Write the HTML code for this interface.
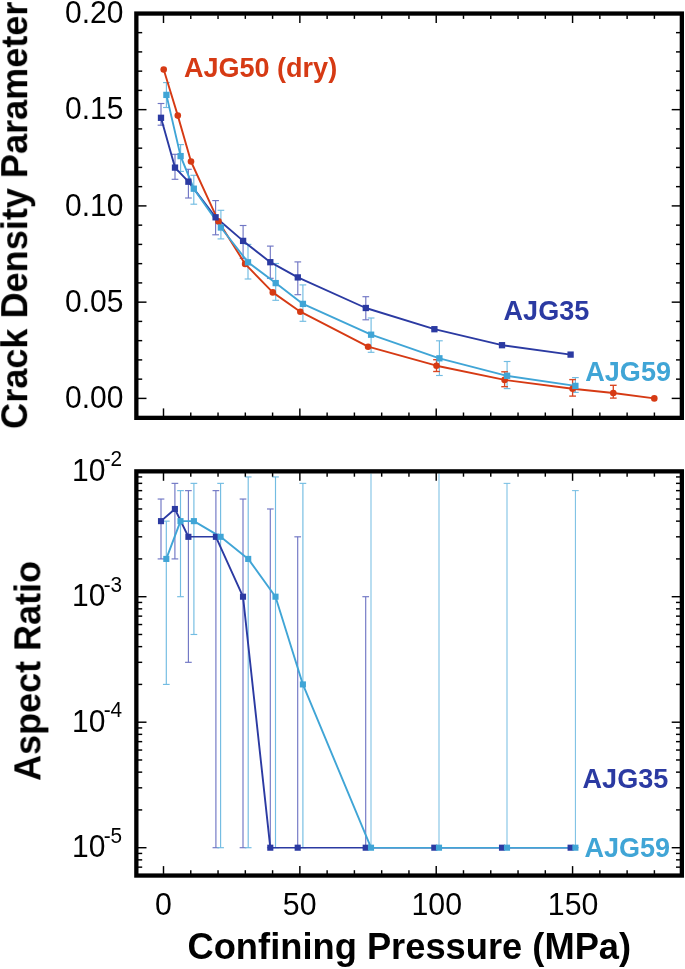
<!DOCTYPE html>
<html><head><meta charset="utf-8"><title>chart</title>
<style>html,body{margin:0;padding:0;background:#fff;}svg{display:block;}</style></head>
<body>
<svg width="685" height="969" viewBox="0 0 685 969">
<rect width="685" height="969" fill="#fff"/>
<line x1="166.40" y1="82.60" x2="166.40" y2="107.50" stroke="#72BCE2" stroke-width="1.15"/>
<line x1="163.05" y1="82.60" x2="169.75" y2="82.60" stroke="#72BCE2" stroke-width="1.15"/>
<line x1="163.05" y1="107.50" x2="169.75" y2="107.50" stroke="#72BCE2" stroke-width="1.15"/>
<line x1="180.60" y1="144.60" x2="180.60" y2="171.40" stroke="#72BCE2" stroke-width="1.15"/>
<line x1="177.25" y1="144.60" x2="183.95" y2="144.60" stroke="#72BCE2" stroke-width="1.15"/>
<line x1="177.25" y1="171.40" x2="183.95" y2="171.40" stroke="#72BCE2" stroke-width="1.15"/>
<line x1="193.80" y1="175.30" x2="193.80" y2="204.20" stroke="#72BCE2" stroke-width="1.15"/>
<line x1="190.45" y1="175.30" x2="197.15" y2="175.30" stroke="#72BCE2" stroke-width="1.15"/>
<line x1="190.45" y1="204.20" x2="197.15" y2="204.20" stroke="#72BCE2" stroke-width="1.15"/>
<line x1="220.90" y1="210.30" x2="220.90" y2="238.90" stroke="#72BCE2" stroke-width="1.15"/>
<line x1="217.55" y1="210.30" x2="224.25" y2="210.30" stroke="#72BCE2" stroke-width="1.15"/>
<line x1="217.55" y1="238.90" x2="224.25" y2="238.90" stroke="#72BCE2" stroke-width="1.15"/>
<line x1="248.00" y1="244.40" x2="248.00" y2="279.00" stroke="#72BCE2" stroke-width="1.15"/>
<line x1="244.65" y1="244.40" x2="251.35" y2="244.40" stroke="#72BCE2" stroke-width="1.15"/>
<line x1="244.65" y1="279.00" x2="251.35" y2="279.00" stroke="#72BCE2" stroke-width="1.15"/>
<line x1="275.70" y1="263.50" x2="275.70" y2="300.30" stroke="#72BCE2" stroke-width="1.15"/>
<line x1="272.35" y1="263.50" x2="279.05" y2="263.50" stroke="#72BCE2" stroke-width="1.15"/>
<line x1="272.35" y1="300.30" x2="279.05" y2="300.30" stroke="#72BCE2" stroke-width="1.15"/>
<line x1="302.90" y1="284.90" x2="302.90" y2="321.30" stroke="#72BCE2" stroke-width="1.15"/>
<line x1="299.55" y1="284.90" x2="306.25" y2="284.90" stroke="#72BCE2" stroke-width="1.15"/>
<line x1="299.55" y1="321.30" x2="306.25" y2="321.30" stroke="#72BCE2" stroke-width="1.15"/>
<line x1="371.10" y1="318.00" x2="371.10" y2="352.30" stroke="#72BCE2" stroke-width="1.15"/>
<line x1="367.75" y1="318.00" x2="374.45" y2="318.00" stroke="#72BCE2" stroke-width="1.15"/>
<line x1="367.75" y1="352.30" x2="374.45" y2="352.30" stroke="#72BCE2" stroke-width="1.15"/>
<line x1="439.40" y1="340.80" x2="439.40" y2="375.50" stroke="#72BCE2" stroke-width="1.15"/>
<line x1="436.05" y1="340.80" x2="442.75" y2="340.80" stroke="#72BCE2" stroke-width="1.15"/>
<line x1="436.05" y1="375.50" x2="442.75" y2="375.50" stroke="#72BCE2" stroke-width="1.15"/>
<line x1="507.10" y1="361.50" x2="507.10" y2="388.60" stroke="#72BCE2" stroke-width="1.15"/>
<line x1="503.75" y1="361.50" x2="510.45" y2="361.50" stroke="#72BCE2" stroke-width="1.15"/>
<line x1="503.75" y1="388.60" x2="510.45" y2="388.60" stroke="#72BCE2" stroke-width="1.15"/>
<line x1="575.40" y1="377.60" x2="575.40" y2="392.40" stroke="#72BCE2" stroke-width="1.15"/>
<line x1="572.05" y1="377.60" x2="578.75" y2="377.60" stroke="#72BCE2" stroke-width="1.15"/>
<line x1="572.05" y1="392.40" x2="578.75" y2="392.40" stroke="#72BCE2" stroke-width="1.15"/>
<line x1="161.00" y1="103.50" x2="161.00" y2="125.20" stroke="#7076C4" stroke-width="1.15"/>
<line x1="157.65" y1="103.50" x2="164.35" y2="103.50" stroke="#7076C4" stroke-width="1.15"/>
<line x1="157.65" y1="125.20" x2="164.35" y2="125.20" stroke="#7076C4" stroke-width="1.15"/>
<line x1="175.00" y1="154.30" x2="175.00" y2="179.30" stroke="#7076C4" stroke-width="1.15"/>
<line x1="171.65" y1="154.30" x2="178.35" y2="154.30" stroke="#7076C4" stroke-width="1.15"/>
<line x1="171.65" y1="179.30" x2="178.35" y2="179.30" stroke="#7076C4" stroke-width="1.15"/>
<line x1="188.40" y1="169.30" x2="188.40" y2="198.00" stroke="#7076C4" stroke-width="1.15"/>
<line x1="185.05" y1="169.30" x2="191.75" y2="169.30" stroke="#7076C4" stroke-width="1.15"/>
<line x1="185.05" y1="198.00" x2="191.75" y2="198.00" stroke="#7076C4" stroke-width="1.15"/>
<line x1="215.60" y1="200.60" x2="215.60" y2="234.80" stroke="#7076C4" stroke-width="1.15"/>
<line x1="212.25" y1="200.60" x2="218.95" y2="200.60" stroke="#7076C4" stroke-width="1.15"/>
<line x1="212.25" y1="234.80" x2="218.95" y2="234.80" stroke="#7076C4" stroke-width="1.15"/>
<line x1="243.10" y1="225.50" x2="243.10" y2="258.40" stroke="#7076C4" stroke-width="1.15"/>
<line x1="239.75" y1="225.50" x2="246.45" y2="225.50" stroke="#7076C4" stroke-width="1.15"/>
<line x1="239.75" y1="258.40" x2="246.45" y2="258.40" stroke="#7076C4" stroke-width="1.15"/>
<line x1="270.30" y1="246.10" x2="270.30" y2="278.30" stroke="#7076C4" stroke-width="1.15"/>
<line x1="266.95" y1="246.10" x2="273.65" y2="246.10" stroke="#7076C4" stroke-width="1.15"/>
<line x1="266.95" y1="278.30" x2="273.65" y2="278.30" stroke="#7076C4" stroke-width="1.15"/>
<line x1="297.80" y1="261.90" x2="297.80" y2="294.70" stroke="#7076C4" stroke-width="1.15"/>
<line x1="294.45" y1="261.90" x2="301.15" y2="261.90" stroke="#7076C4" stroke-width="1.15"/>
<line x1="294.45" y1="294.70" x2="301.15" y2="294.70" stroke="#7076C4" stroke-width="1.15"/>
<line x1="365.80" y1="296.70" x2="365.80" y2="319.80" stroke="#7076C4" stroke-width="1.15"/>
<line x1="362.45" y1="296.70" x2="369.15" y2="296.70" stroke="#7076C4" stroke-width="1.15"/>
<line x1="362.45" y1="319.80" x2="369.15" y2="319.80" stroke="#7076C4" stroke-width="1.15"/>
<line x1="436.50" y1="359.70" x2="436.50" y2="371.50" stroke="#DA4722" stroke-width="1.35"/>
<line x1="433.15" y1="359.70" x2="439.85" y2="359.70" stroke="#DA4722" stroke-width="1.35"/>
<line x1="433.15" y1="371.50" x2="439.85" y2="371.50" stroke="#DA4722" stroke-width="1.35"/>
<line x1="504.60" y1="371.80" x2="504.60" y2="386.70" stroke="#DA4722" stroke-width="1.35"/>
<line x1="501.25" y1="371.80" x2="507.95" y2="371.80" stroke="#DA4722" stroke-width="1.35"/>
<line x1="501.25" y1="386.70" x2="507.95" y2="386.70" stroke="#DA4722" stroke-width="1.35"/>
<line x1="572.60" y1="379.60" x2="572.60" y2="396.10" stroke="#DA4722" stroke-width="1.35"/>
<line x1="569.25" y1="379.60" x2="575.95" y2="379.60" stroke="#DA4722" stroke-width="1.35"/>
<line x1="569.25" y1="396.10" x2="575.95" y2="396.10" stroke="#DA4722" stroke-width="1.35"/>
<line x1="613.30" y1="385.30" x2="613.30" y2="398.10" stroke="#DA4722" stroke-width="1.35"/>
<line x1="609.95" y1="385.30" x2="616.65" y2="385.30" stroke="#DA4722" stroke-width="1.35"/>
<line x1="609.95" y1="398.10" x2="616.65" y2="398.10" stroke="#DA4722" stroke-width="1.35"/>
<polyline points="163.70,69.50 177.80,115.60 191.00,161.50 218.50,221.40 245.10,263.90 272.80,292.40 300.30,311.70 368.10,346.70 436.50,365.70 504.60,379.90 572.60,388.70 613.30,393.00 654.30,398.40" fill="none" stroke="#D63A14" stroke-width="1.9" stroke-linejoin="round"/>
<polyline points="161.00,117.80 175.00,167.60 188.40,181.70 215.60,217.30 243.10,240.90 270.30,262.20 297.80,277.40 365.80,308.00 434.40,329.20 502.00,345.20 570.60,354.60" fill="none" stroke="#2B3AA2" stroke-width="1.9" stroke-linejoin="round"/>
<polyline points="166.40,94.90 180.60,156.10 193.80,188.70 220.90,227.50 248.00,262.30 275.70,283.10 302.90,303.90 371.10,334.70 439.40,358.30 507.10,375.80 575.40,385.90" fill="none" stroke="#40A5D6" stroke-width="1.9" stroke-linejoin="round"/>
<circle cx="163.70" cy="69.50" r="3.3" fill="#D63A14"/>
<circle cx="177.80" cy="115.60" r="3.3" fill="#D63A14"/>
<circle cx="191.00" cy="161.50" r="3.3" fill="#D63A14"/>
<circle cx="218.50" cy="221.40" r="3.3" fill="#D63A14"/>
<circle cx="245.10" cy="263.90" r="3.3" fill="#D63A14"/>
<circle cx="272.80" cy="292.40" r="3.3" fill="#D63A14"/>
<circle cx="300.30" cy="311.70" r="3.3" fill="#D63A14"/>
<circle cx="368.10" cy="346.70" r="3.3" fill="#D63A14"/>
<circle cx="436.50" cy="365.70" r="3.3" fill="#D63A14"/>
<circle cx="504.60" cy="379.90" r="3.3" fill="#D63A14"/>
<circle cx="572.60" cy="388.70" r="3.3" fill="#D63A14"/>
<circle cx="613.30" cy="393.00" r="3.3" fill="#D63A14"/>
<circle cx="654.30" cy="398.40" r="3.3" fill="#D63A14"/>
<rect x="157.85" y="114.65" width="6.3" height="6.3" fill="#2B3AA2"/>
<rect x="171.85" y="164.45" width="6.3" height="6.3" fill="#2B3AA2"/>
<rect x="185.25" y="178.55" width="6.3" height="6.3" fill="#2B3AA2"/>
<rect x="212.45" y="214.15" width="6.3" height="6.3" fill="#2B3AA2"/>
<rect x="239.95" y="237.75" width="6.3" height="6.3" fill="#2B3AA2"/>
<rect x="267.15" y="259.05" width="6.3" height="6.3" fill="#2B3AA2"/>
<rect x="294.65" y="274.25" width="6.3" height="6.3" fill="#2B3AA2"/>
<rect x="362.65" y="304.85" width="6.3" height="6.3" fill="#2B3AA2"/>
<rect x="431.25" y="326.05" width="6.3" height="6.3" fill="#2B3AA2"/>
<rect x="498.85" y="342.05" width="6.3" height="6.3" fill="#2B3AA2"/>
<rect x="567.45" y="351.45" width="6.3" height="6.3" fill="#2B3AA2"/>
<rect x="163.25" y="91.75" width="6.3" height="6.3" fill="#40A5D6"/>
<rect x="177.45" y="152.95" width="6.3" height="6.3" fill="#40A5D6"/>
<rect x="190.65" y="185.55" width="6.3" height="6.3" fill="#40A5D6"/>
<rect x="217.75" y="224.35" width="6.3" height="6.3" fill="#40A5D6"/>
<rect x="244.85" y="259.15" width="6.3" height="6.3" fill="#40A5D6"/>
<rect x="272.55" y="279.95" width="6.3" height="6.3" fill="#40A5D6"/>
<rect x="299.75" y="300.75" width="6.3" height="6.3" fill="#40A5D6"/>
<rect x="367.95" y="331.55" width="6.3" height="6.3" fill="#40A5D6"/>
<rect x="436.25" y="355.15" width="6.3" height="6.3" fill="#40A5D6"/>
<rect x="503.95" y="372.65" width="6.3" height="6.3" fill="#40A5D6"/>
<rect x="572.25" y="382.75" width="6.3" height="6.3" fill="#40A5D6"/>
<rect x="136.35" y="13.55" width="545.50" height="404.30" fill="none" stroke="#000" stroke-width="4.3"/>
<line x1="163.50" y1="15.20" x2="163.50" y2="23.00" stroke="#000" stroke-width="1.45"/>
<line x1="163.50" y1="416.20" x2="163.50" y2="408.40" stroke="#000" stroke-width="1.45"/>
<line x1="190.77" y1="15.20" x2="190.77" y2="18.90" stroke="#000" stroke-width="1.45"/>
<line x1="190.77" y1="416.20" x2="190.77" y2="412.50" stroke="#000" stroke-width="1.45"/>
<line x1="218.04" y1="15.20" x2="218.04" y2="18.90" stroke="#000" stroke-width="1.45"/>
<line x1="218.04" y1="416.20" x2="218.04" y2="412.50" stroke="#000" stroke-width="1.45"/>
<line x1="245.32" y1="15.20" x2="245.32" y2="18.90" stroke="#000" stroke-width="1.45"/>
<line x1="245.32" y1="416.20" x2="245.32" y2="412.50" stroke="#000" stroke-width="1.45"/>
<line x1="272.59" y1="15.20" x2="272.59" y2="18.90" stroke="#000" stroke-width="1.45"/>
<line x1="272.59" y1="416.20" x2="272.59" y2="412.50" stroke="#000" stroke-width="1.45"/>
<line x1="299.86" y1="15.20" x2="299.86" y2="23.00" stroke="#000" stroke-width="1.45"/>
<line x1="299.86" y1="416.20" x2="299.86" y2="408.40" stroke="#000" stroke-width="1.45"/>
<line x1="327.13" y1="15.20" x2="327.13" y2="18.90" stroke="#000" stroke-width="1.45"/>
<line x1="327.13" y1="416.20" x2="327.13" y2="412.50" stroke="#000" stroke-width="1.45"/>
<line x1="354.40" y1="15.20" x2="354.40" y2="18.90" stroke="#000" stroke-width="1.45"/>
<line x1="354.40" y1="416.20" x2="354.40" y2="412.50" stroke="#000" stroke-width="1.45"/>
<line x1="381.68" y1="15.20" x2="381.68" y2="18.90" stroke="#000" stroke-width="1.45"/>
<line x1="381.68" y1="416.20" x2="381.68" y2="412.50" stroke="#000" stroke-width="1.45"/>
<line x1="408.95" y1="15.20" x2="408.95" y2="18.90" stroke="#000" stroke-width="1.45"/>
<line x1="408.95" y1="416.20" x2="408.95" y2="412.50" stroke="#000" stroke-width="1.45"/>
<line x1="436.22" y1="15.20" x2="436.22" y2="23.00" stroke="#000" stroke-width="1.45"/>
<line x1="436.22" y1="416.20" x2="436.22" y2="408.40" stroke="#000" stroke-width="1.45"/>
<line x1="463.49" y1="15.20" x2="463.49" y2="18.90" stroke="#000" stroke-width="1.45"/>
<line x1="463.49" y1="416.20" x2="463.49" y2="412.50" stroke="#000" stroke-width="1.45"/>
<line x1="490.76" y1="15.20" x2="490.76" y2="18.90" stroke="#000" stroke-width="1.45"/>
<line x1="490.76" y1="416.20" x2="490.76" y2="412.50" stroke="#000" stroke-width="1.45"/>
<line x1="518.04" y1="15.20" x2="518.04" y2="18.90" stroke="#000" stroke-width="1.45"/>
<line x1="518.04" y1="416.20" x2="518.04" y2="412.50" stroke="#000" stroke-width="1.45"/>
<line x1="545.31" y1="15.20" x2="545.31" y2="18.90" stroke="#000" stroke-width="1.45"/>
<line x1="545.31" y1="416.20" x2="545.31" y2="412.50" stroke="#000" stroke-width="1.45"/>
<line x1="572.58" y1="15.20" x2="572.58" y2="23.00" stroke="#000" stroke-width="1.45"/>
<line x1="572.58" y1="416.20" x2="572.58" y2="408.40" stroke="#000" stroke-width="1.45"/>
<line x1="599.85" y1="15.20" x2="599.85" y2="18.90" stroke="#000" stroke-width="1.45"/>
<line x1="599.85" y1="416.20" x2="599.85" y2="412.50" stroke="#000" stroke-width="1.45"/>
<line x1="627.12" y1="15.20" x2="627.12" y2="18.90" stroke="#000" stroke-width="1.45"/>
<line x1="627.12" y1="416.20" x2="627.12" y2="412.50" stroke="#000" stroke-width="1.45"/>
<line x1="654.40" y1="15.20" x2="654.40" y2="18.90" stroke="#000" stroke-width="1.45"/>
<line x1="654.40" y1="416.20" x2="654.40" y2="412.50" stroke="#000" stroke-width="1.45"/>
<line x1="138.00" y1="398.40" x2="146.50" y2="398.40" stroke="#000" stroke-width="1.45"/>
<line x1="680.20" y1="398.40" x2="671.70" y2="398.40" stroke="#000" stroke-width="1.45"/>
<line x1="138.00" y1="379.15" x2="142.20" y2="379.15" stroke="#000" stroke-width="1.45"/>
<line x1="680.20" y1="379.15" x2="676.00" y2="379.15" stroke="#000" stroke-width="1.45"/>
<line x1="138.00" y1="359.90" x2="142.20" y2="359.90" stroke="#000" stroke-width="1.45"/>
<line x1="680.20" y1="359.90" x2="676.00" y2="359.90" stroke="#000" stroke-width="1.45"/>
<line x1="138.00" y1="340.65" x2="142.20" y2="340.65" stroke="#000" stroke-width="1.45"/>
<line x1="680.20" y1="340.65" x2="676.00" y2="340.65" stroke="#000" stroke-width="1.45"/>
<line x1="138.00" y1="321.40" x2="142.20" y2="321.40" stroke="#000" stroke-width="1.45"/>
<line x1="680.20" y1="321.40" x2="676.00" y2="321.40" stroke="#000" stroke-width="1.45"/>
<line x1="138.00" y1="302.15" x2="146.50" y2="302.15" stroke="#000" stroke-width="1.45"/>
<line x1="680.20" y1="302.15" x2="671.70" y2="302.15" stroke="#000" stroke-width="1.45"/>
<line x1="138.00" y1="282.90" x2="142.20" y2="282.90" stroke="#000" stroke-width="1.45"/>
<line x1="680.20" y1="282.90" x2="676.00" y2="282.90" stroke="#000" stroke-width="1.45"/>
<line x1="138.00" y1="263.65" x2="142.20" y2="263.65" stroke="#000" stroke-width="1.45"/>
<line x1="680.20" y1="263.65" x2="676.00" y2="263.65" stroke="#000" stroke-width="1.45"/>
<line x1="138.00" y1="244.40" x2="142.20" y2="244.40" stroke="#000" stroke-width="1.45"/>
<line x1="680.20" y1="244.40" x2="676.00" y2="244.40" stroke="#000" stroke-width="1.45"/>
<line x1="138.00" y1="225.15" x2="142.20" y2="225.15" stroke="#000" stroke-width="1.45"/>
<line x1="680.20" y1="225.15" x2="676.00" y2="225.15" stroke="#000" stroke-width="1.45"/>
<line x1="138.00" y1="205.90" x2="146.50" y2="205.90" stroke="#000" stroke-width="1.45"/>
<line x1="680.20" y1="205.90" x2="671.70" y2="205.90" stroke="#000" stroke-width="1.45"/>
<line x1="138.00" y1="186.65" x2="142.20" y2="186.65" stroke="#000" stroke-width="1.45"/>
<line x1="680.20" y1="186.65" x2="676.00" y2="186.65" stroke="#000" stroke-width="1.45"/>
<line x1="138.00" y1="167.40" x2="142.20" y2="167.40" stroke="#000" stroke-width="1.45"/>
<line x1="680.20" y1="167.40" x2="676.00" y2="167.40" stroke="#000" stroke-width="1.45"/>
<line x1="138.00" y1="148.15" x2="142.20" y2="148.15" stroke="#000" stroke-width="1.45"/>
<line x1="680.20" y1="148.15" x2="676.00" y2="148.15" stroke="#000" stroke-width="1.45"/>
<line x1="138.00" y1="128.90" x2="142.20" y2="128.90" stroke="#000" stroke-width="1.45"/>
<line x1="680.20" y1="128.90" x2="676.00" y2="128.90" stroke="#000" stroke-width="1.45"/>
<line x1="138.00" y1="109.65" x2="146.50" y2="109.65" stroke="#000" stroke-width="1.45"/>
<line x1="680.20" y1="109.65" x2="671.70" y2="109.65" stroke="#000" stroke-width="1.45"/>
<line x1="138.00" y1="90.40" x2="142.20" y2="90.40" stroke="#000" stroke-width="1.45"/>
<line x1="680.20" y1="90.40" x2="676.00" y2="90.40" stroke="#000" stroke-width="1.45"/>
<line x1="138.00" y1="71.15" x2="142.20" y2="71.15" stroke="#000" stroke-width="1.45"/>
<line x1="680.20" y1="71.15" x2="676.00" y2="71.15" stroke="#000" stroke-width="1.45"/>
<line x1="138.00" y1="51.90" x2="142.20" y2="51.90" stroke="#000" stroke-width="1.45"/>
<line x1="680.20" y1="51.90" x2="676.00" y2="51.90" stroke="#000" stroke-width="1.45"/>
<line x1="138.00" y1="32.65" x2="142.20" y2="32.65" stroke="#000" stroke-width="1.45"/>
<line x1="680.20" y1="32.65" x2="676.00" y2="32.65" stroke="#000" stroke-width="1.45"/>
<line x1="138.00" y1="13.40" x2="146.50" y2="13.40" stroke="#000" stroke-width="1.45"/>
<line x1="680.20" y1="13.40" x2="671.70" y2="13.40" stroke="#000" stroke-width="1.45"/>
<line x1="161.00" y1="499.04" x2="161.00" y2="558.92" stroke="#7076C4" stroke-width="1.15"/>
<line x1="157.65" y1="499.04" x2="164.35" y2="499.04" stroke="#7076C4" stroke-width="1.15"/>
<line x1="157.65" y1="558.92" x2="164.35" y2="558.92" stroke="#7076C4" stroke-width="1.15"/>
<line x1="174.90" y1="483.36" x2="174.90" y2="558.92" stroke="#7076C4" stroke-width="1.15"/>
<line x1="171.55" y1="483.36" x2="178.25" y2="483.36" stroke="#7076C4" stroke-width="1.15"/>
<line x1="171.55" y1="558.92" x2="178.25" y2="558.92" stroke="#7076C4" stroke-width="1.15"/>
<line x1="188.40" y1="490.64" x2="188.40" y2="662.32" stroke="#7076C4" stroke-width="1.15"/>
<line x1="185.05" y1="490.64" x2="191.75" y2="490.64" stroke="#7076C4" stroke-width="1.15"/>
<line x1="185.05" y1="662.32" x2="191.75" y2="662.32" stroke="#7076C4" stroke-width="1.15"/>
<line x1="215.90" y1="490.64" x2="215.90" y2="847.70" stroke="#7076C4" stroke-width="1.15"/>
<line x1="212.55" y1="490.64" x2="219.25" y2="490.64" stroke="#7076C4" stroke-width="1.15"/>
<line x1="212.55" y1="847.70" x2="219.25" y2="847.70" stroke="#7076C4" stroke-width="1.15"/>
<line x1="243.00" y1="499.04" x2="243.00" y2="847.70" stroke="#7076C4" stroke-width="1.15"/>
<line x1="239.65" y1="499.04" x2="246.35" y2="499.04" stroke="#7076C4" stroke-width="1.15"/>
<line x1="239.65" y1="847.70" x2="246.35" y2="847.70" stroke="#7076C4" stroke-width="1.15"/>
<line x1="270.30" y1="508.98" x2="270.30" y2="847.70" stroke="#7076C4" stroke-width="1.15"/>
<line x1="266.95" y1="508.98" x2="273.65" y2="508.98" stroke="#7076C4" stroke-width="1.15"/>
<line x1="266.95" y1="847.70" x2="273.65" y2="847.70" stroke="#7076C4" stroke-width="1.15"/>
<line x1="297.70" y1="536.82" x2="297.70" y2="847.70" stroke="#7076C4" stroke-width="1.15"/>
<line x1="294.35" y1="536.82" x2="301.05" y2="536.82" stroke="#7076C4" stroke-width="1.15"/>
<line x1="294.35" y1="847.70" x2="301.05" y2="847.70" stroke="#7076C4" stroke-width="1.15"/>
<line x1="365.70" y1="596.70" x2="365.70" y2="847.70" stroke="#7076C4" stroke-width="1.15"/>
<line x1="362.35" y1="596.70" x2="369.05" y2="596.70" stroke="#7076C4" stroke-width="1.15"/>
<line x1="362.35" y1="847.70" x2="369.05" y2="847.70" stroke="#7076C4" stroke-width="1.15"/>
<line x1="166.30" y1="521.14" x2="166.30" y2="684.42" stroke="#72BCE2" stroke-width="1.15"/>
<line x1="162.95" y1="521.14" x2="169.65" y2="521.14" stroke="#72BCE2" stroke-width="1.15"/>
<line x1="162.95" y1="684.42" x2="169.65" y2="684.42" stroke="#72BCE2" stroke-width="1.15"/>
<line x1="180.50" y1="490.64" x2="180.50" y2="596.70" stroke="#72BCE2" stroke-width="1.15"/>
<line x1="177.15" y1="490.64" x2="183.85" y2="490.64" stroke="#72BCE2" stroke-width="1.15"/>
<line x1="177.15" y1="596.70" x2="183.85" y2="596.70" stroke="#72BCE2" stroke-width="1.15"/>
<line x1="193.90" y1="483.36" x2="193.90" y2="634.48" stroke="#72BCE2" stroke-width="1.15"/>
<line x1="190.55" y1="483.36" x2="197.25" y2="483.36" stroke="#72BCE2" stroke-width="1.15"/>
<line x1="190.55" y1="634.48" x2="197.25" y2="634.48" stroke="#72BCE2" stroke-width="1.15"/>
<line x1="220.60" y1="483.36" x2="220.60" y2="847.70" stroke="#72BCE2" stroke-width="1.15"/>
<line x1="217.25" y1="483.36" x2="223.95" y2="483.36" stroke="#72BCE2" stroke-width="1.15"/>
<line x1="217.25" y1="847.70" x2="223.95" y2="847.70" stroke="#72BCE2" stroke-width="1.15"/>
<line x1="248.20" y1="476.94" x2="248.20" y2="847.70" stroke="#72BCE2" stroke-width="1.15"/>
<line x1="244.85" y1="476.94" x2="251.55" y2="476.94" stroke="#72BCE2" stroke-width="1.15"/>
<line x1="244.85" y1="847.70" x2="251.55" y2="847.70" stroke="#72BCE2" stroke-width="1.15"/>
<line x1="275.50" y1="476.94" x2="275.50" y2="847.70" stroke="#72BCE2" stroke-width="1.15"/>
<line x1="272.15" y1="476.94" x2="278.85" y2="476.94" stroke="#72BCE2" stroke-width="1.15"/>
<line x1="272.15" y1="847.70" x2="278.85" y2="847.70" stroke="#72BCE2" stroke-width="1.15"/>
<line x1="302.90" y1="483.36" x2="302.90" y2="847.70" stroke="#72BCE2" stroke-width="1.15"/>
<line x1="299.55" y1="483.36" x2="306.25" y2="483.36" stroke="#72BCE2" stroke-width="1.15"/>
<line x1="299.55" y1="847.70" x2="306.25" y2="847.70" stroke="#72BCE2" stroke-width="1.15"/>
<line x1="371.00" y1="473.50" x2="371.00" y2="847.70" stroke="#6CB8E0" stroke-width="0.95"/>
<line x1="367.65" y1="847.70" x2="374.35" y2="847.70" stroke="#6CB8E0" stroke-width="0.95"/>
<line x1="439.00" y1="473.50" x2="439.00" y2="847.70" stroke="#6CB8E0" stroke-width="0.95"/>
<line x1="435.65" y1="847.70" x2="442.35" y2="847.70" stroke="#6CB8E0" stroke-width="0.95"/>
<line x1="507.00" y1="483.36" x2="507.00" y2="847.70" stroke="#6CB8E0" stroke-width="0.95"/>
<line x1="503.65" y1="483.36" x2="510.35" y2="483.36" stroke="#6CB8E0" stroke-width="0.95"/>
<line x1="503.65" y1="847.70" x2="510.35" y2="847.70" stroke="#6CB8E0" stroke-width="0.95"/>
<line x1="575.40" y1="490.64" x2="575.40" y2="847.70" stroke="#6CB8E0" stroke-width="0.95"/>
<line x1="572.05" y1="490.64" x2="578.75" y2="490.64" stroke="#6CB8E0" stroke-width="0.95"/>
<line x1="572.05" y1="847.70" x2="578.75" y2="847.70" stroke="#6CB8E0" stroke-width="0.95"/>
<line x1="161.00" y1="521.14" x2="174.90" y2="508.98" stroke="#2B3AA2" stroke-width="1.9" stroke-linecap="round"/>
<line x1="174.90" y1="508.98" x2="188.40" y2="536.82" stroke="#2B3AA2" stroke-width="1.9" stroke-linecap="round"/>
<line x1="188.40" y1="536.82" x2="215.90" y2="536.82" stroke="#2B3AA2" stroke-width="1.5" stroke-linecap="round"/>
<line x1="215.90" y1="536.82" x2="243.00" y2="596.70" stroke="#2B3AA2" stroke-width="1.9" stroke-linecap="round"/>
<line x1="243.00" y1="596.70" x2="270.30" y2="847.70" stroke="#2B3AA2" stroke-width="1.9" stroke-linecap="round"/>
<line x1="270.30" y1="847.70" x2="297.70" y2="847.70" stroke="#2B3AA2" stroke-width="1.5" stroke-linecap="round"/>
<line x1="297.70" y1="847.70" x2="365.70" y2="847.70" stroke="#2B3AA2" stroke-width="1.5" stroke-linecap="round"/>
<line x1="365.70" y1="847.70" x2="434.30" y2="847.70" stroke="#2B3AA2" stroke-width="1.5" stroke-linecap="round"/>
<line x1="434.30" y1="847.70" x2="502.00" y2="847.70" stroke="#2B3AA2" stroke-width="1.5" stroke-linecap="round"/>
<line x1="502.00" y1="847.70" x2="570.60" y2="847.70" stroke="#2B3AA2" stroke-width="1.5" stroke-linecap="round"/>
<line x1="166.30" y1="558.92" x2="180.50" y2="521.14" stroke="#40A5D6" stroke-width="1.9" stroke-linecap="round"/>
<line x1="180.50" y1="521.14" x2="193.90" y2="521.14" stroke="#40A5D6" stroke-width="1.6" stroke-linecap="round"/>
<line x1="193.90" y1="521.14" x2="220.60" y2="536.82" stroke="#40A5D6" stroke-width="1.9" stroke-linecap="round"/>
<line x1="220.60" y1="536.82" x2="248.20" y2="558.92" stroke="#40A5D6" stroke-width="1.9" stroke-linecap="round"/>
<line x1="248.20" y1="558.92" x2="275.50" y2="596.70" stroke="#40A5D6" stroke-width="1.9" stroke-linecap="round"/>
<line x1="275.50" y1="596.70" x2="302.90" y2="684.42" stroke="#40A5D6" stroke-width="1.9" stroke-linecap="round"/>
<line x1="302.90" y1="684.42" x2="371.00" y2="847.70" stroke="#40A5D6" stroke-width="1.9" stroke-linecap="round"/>
<line x1="371.00" y1="847.70" x2="439.00" y2="847.70" stroke="#40A5D6" stroke-width="1.6" stroke-linecap="round"/>
<line x1="439.00" y1="847.70" x2="507.00" y2="847.70" stroke="#40A5D6" stroke-width="1.6" stroke-linecap="round"/>
<line x1="507.00" y1="847.70" x2="575.40" y2="847.70" stroke="#40A5D6" stroke-width="1.6" stroke-linecap="round"/>
<rect x="157.95" y="518.09" width="6.1" height="6.1" fill="#2B3AA2"/>
<rect x="171.85" y="505.93" width="6.1" height="6.1" fill="#2B3AA2"/>
<rect x="185.35" y="533.77" width="6.1" height="6.1" fill="#2B3AA2"/>
<rect x="212.85" y="533.77" width="6.1" height="6.1" fill="#2B3AA2"/>
<rect x="239.95" y="593.65" width="6.1" height="6.1" fill="#2B3AA2"/>
<rect x="267.25" y="844.65" width="6.1" height="6.1" fill="#2B3AA2"/>
<rect x="294.65" y="844.65" width="6.1" height="6.1" fill="#2B3AA2"/>
<rect x="362.65" y="844.65" width="6.1" height="6.1" fill="#2B3AA2"/>
<rect x="431.25" y="844.65" width="6.1" height="6.1" fill="#2B3AA2"/>
<rect x="498.95" y="844.65" width="6.1" height="6.1" fill="#2B3AA2"/>
<rect x="567.55" y="844.65" width="6.1" height="6.1" fill="#2B3AA2"/>
<rect x="163.25" y="555.87" width="6.1" height="6.1" fill="#40A5D6"/>
<rect x="177.45" y="518.09" width="6.1" height="6.1" fill="#40A5D6"/>
<rect x="190.85" y="518.09" width="6.1" height="6.1" fill="#40A5D6"/>
<rect x="217.55" y="533.77" width="6.1" height="6.1" fill="#40A5D6"/>
<rect x="245.15" y="555.87" width="6.1" height="6.1" fill="#40A5D6"/>
<rect x="272.45" y="593.65" width="6.1" height="6.1" fill="#40A5D6"/>
<rect x="299.85" y="681.37" width="6.1" height="6.1" fill="#40A5D6"/>
<rect x="367.95" y="844.65" width="6.1" height="6.1" fill="#40A5D6"/>
<rect x="435.95" y="844.65" width="6.1" height="6.1" fill="#40A5D6"/>
<rect x="503.95" y="844.65" width="6.1" height="6.1" fill="#40A5D6"/>
<rect x="572.35" y="844.65" width="6.1" height="6.1" fill="#40A5D6"/>
<rect x="136.35" y="471.35" width="545.50" height="404.20" fill="none" stroke="#000" stroke-width="4.3"/>
<line x1="163.50" y1="473.00" x2="163.50" y2="480.80" stroke="#000" stroke-width="1.45"/>
<line x1="163.50" y1="873.90" x2="163.50" y2="866.10" stroke="#000" stroke-width="1.45"/>
<line x1="190.77" y1="473.00" x2="190.77" y2="476.70" stroke="#000" stroke-width="1.45"/>
<line x1="190.77" y1="873.90" x2="190.77" y2="870.20" stroke="#000" stroke-width="1.45"/>
<line x1="218.04" y1="473.00" x2="218.04" y2="476.70" stroke="#000" stroke-width="1.45"/>
<line x1="218.04" y1="873.90" x2="218.04" y2="870.20" stroke="#000" stroke-width="1.45"/>
<line x1="245.32" y1="473.00" x2="245.32" y2="476.70" stroke="#000" stroke-width="1.45"/>
<line x1="245.32" y1="873.90" x2="245.32" y2="870.20" stroke="#000" stroke-width="1.45"/>
<line x1="272.59" y1="473.00" x2="272.59" y2="476.70" stroke="#000" stroke-width="1.45"/>
<line x1="272.59" y1="873.90" x2="272.59" y2="870.20" stroke="#000" stroke-width="1.45"/>
<line x1="299.86" y1="473.00" x2="299.86" y2="480.80" stroke="#000" stroke-width="1.45"/>
<line x1="299.86" y1="873.90" x2="299.86" y2="866.10" stroke="#000" stroke-width="1.45"/>
<line x1="327.13" y1="473.00" x2="327.13" y2="476.70" stroke="#000" stroke-width="1.45"/>
<line x1="327.13" y1="873.90" x2="327.13" y2="870.20" stroke="#000" stroke-width="1.45"/>
<line x1="354.40" y1="473.00" x2="354.40" y2="476.70" stroke="#000" stroke-width="1.45"/>
<line x1="354.40" y1="873.90" x2="354.40" y2="870.20" stroke="#000" stroke-width="1.45"/>
<line x1="381.68" y1="473.00" x2="381.68" y2="476.70" stroke="#000" stroke-width="1.45"/>
<line x1="381.68" y1="873.90" x2="381.68" y2="870.20" stroke="#000" stroke-width="1.45"/>
<line x1="408.95" y1="473.00" x2="408.95" y2="476.70" stroke="#000" stroke-width="1.45"/>
<line x1="408.95" y1="873.90" x2="408.95" y2="870.20" stroke="#000" stroke-width="1.45"/>
<line x1="436.22" y1="473.00" x2="436.22" y2="480.80" stroke="#000" stroke-width="1.45"/>
<line x1="436.22" y1="873.90" x2="436.22" y2="866.10" stroke="#000" stroke-width="1.45"/>
<line x1="463.49" y1="473.00" x2="463.49" y2="476.70" stroke="#000" stroke-width="1.45"/>
<line x1="463.49" y1="873.90" x2="463.49" y2="870.20" stroke="#000" stroke-width="1.45"/>
<line x1="490.76" y1="473.00" x2="490.76" y2="476.70" stroke="#000" stroke-width="1.45"/>
<line x1="490.76" y1="873.90" x2="490.76" y2="870.20" stroke="#000" stroke-width="1.45"/>
<line x1="518.04" y1="473.00" x2="518.04" y2="476.70" stroke="#000" stroke-width="1.45"/>
<line x1="518.04" y1="873.90" x2="518.04" y2="870.20" stroke="#000" stroke-width="1.45"/>
<line x1="545.31" y1="473.00" x2="545.31" y2="476.70" stroke="#000" stroke-width="1.45"/>
<line x1="545.31" y1="873.90" x2="545.31" y2="870.20" stroke="#000" stroke-width="1.45"/>
<line x1="572.58" y1="473.00" x2="572.58" y2="480.80" stroke="#000" stroke-width="1.45"/>
<line x1="572.58" y1="873.90" x2="572.58" y2="866.10" stroke="#000" stroke-width="1.45"/>
<line x1="599.85" y1="473.00" x2="599.85" y2="476.70" stroke="#000" stroke-width="1.45"/>
<line x1="599.85" y1="873.90" x2="599.85" y2="870.20" stroke="#000" stroke-width="1.45"/>
<line x1="627.12" y1="473.00" x2="627.12" y2="476.70" stroke="#000" stroke-width="1.45"/>
<line x1="627.12" y1="873.90" x2="627.12" y2="870.20" stroke="#000" stroke-width="1.45"/>
<line x1="654.40" y1="473.00" x2="654.40" y2="476.70" stroke="#000" stroke-width="1.45"/>
<line x1="654.40" y1="873.90" x2="654.40" y2="870.20" stroke="#000" stroke-width="1.45"/>
<line x1="138.00" y1="867.14" x2="142.20" y2="867.14" stroke="#000" stroke-width="1.45"/>
<line x1="680.20" y1="867.14" x2="676.00" y2="867.14" stroke="#000" stroke-width="1.45"/>
<line x1="138.00" y1="859.86" x2="142.20" y2="859.86" stroke="#000" stroke-width="1.45"/>
<line x1="680.20" y1="859.86" x2="676.00" y2="859.86" stroke="#000" stroke-width="1.45"/>
<line x1="138.00" y1="853.44" x2="142.20" y2="853.44" stroke="#000" stroke-width="1.45"/>
<line x1="680.20" y1="853.44" x2="676.00" y2="853.44" stroke="#000" stroke-width="1.45"/>
<line x1="138.00" y1="847.70" x2="146.50" y2="847.70" stroke="#000" stroke-width="1.45"/>
<line x1="680.20" y1="847.70" x2="671.70" y2="847.70" stroke="#000" stroke-width="1.45"/>
<line x1="138.00" y1="809.92" x2="142.20" y2="809.92" stroke="#000" stroke-width="1.45"/>
<line x1="680.20" y1="809.92" x2="676.00" y2="809.92" stroke="#000" stroke-width="1.45"/>
<line x1="138.00" y1="787.82" x2="142.20" y2="787.82" stroke="#000" stroke-width="1.45"/>
<line x1="680.20" y1="787.82" x2="676.00" y2="787.82" stroke="#000" stroke-width="1.45"/>
<line x1="138.00" y1="772.14" x2="142.20" y2="772.14" stroke="#000" stroke-width="1.45"/>
<line x1="680.20" y1="772.14" x2="676.00" y2="772.14" stroke="#000" stroke-width="1.45"/>
<line x1="138.00" y1="759.98" x2="142.20" y2="759.98" stroke="#000" stroke-width="1.45"/>
<line x1="680.20" y1="759.98" x2="676.00" y2="759.98" stroke="#000" stroke-width="1.45"/>
<line x1="138.00" y1="750.04" x2="142.20" y2="750.04" stroke="#000" stroke-width="1.45"/>
<line x1="680.20" y1="750.04" x2="676.00" y2="750.04" stroke="#000" stroke-width="1.45"/>
<line x1="138.00" y1="741.64" x2="142.20" y2="741.64" stroke="#000" stroke-width="1.45"/>
<line x1="680.20" y1="741.64" x2="676.00" y2="741.64" stroke="#000" stroke-width="1.45"/>
<line x1="138.00" y1="734.36" x2="142.20" y2="734.36" stroke="#000" stroke-width="1.45"/>
<line x1="680.20" y1="734.36" x2="676.00" y2="734.36" stroke="#000" stroke-width="1.45"/>
<line x1="138.00" y1="727.94" x2="142.20" y2="727.94" stroke="#000" stroke-width="1.45"/>
<line x1="680.20" y1="727.94" x2="676.00" y2="727.94" stroke="#000" stroke-width="1.45"/>
<line x1="138.00" y1="722.20" x2="146.50" y2="722.20" stroke="#000" stroke-width="1.45"/>
<line x1="680.20" y1="722.20" x2="671.70" y2="722.20" stroke="#000" stroke-width="1.45"/>
<line x1="138.00" y1="684.42" x2="142.20" y2="684.42" stroke="#000" stroke-width="1.45"/>
<line x1="680.20" y1="684.42" x2="676.00" y2="684.42" stroke="#000" stroke-width="1.45"/>
<line x1="138.00" y1="662.32" x2="142.20" y2="662.32" stroke="#000" stroke-width="1.45"/>
<line x1="680.20" y1="662.32" x2="676.00" y2="662.32" stroke="#000" stroke-width="1.45"/>
<line x1="138.00" y1="646.64" x2="142.20" y2="646.64" stroke="#000" stroke-width="1.45"/>
<line x1="680.20" y1="646.64" x2="676.00" y2="646.64" stroke="#000" stroke-width="1.45"/>
<line x1="138.00" y1="634.48" x2="142.20" y2="634.48" stroke="#000" stroke-width="1.45"/>
<line x1="680.20" y1="634.48" x2="676.00" y2="634.48" stroke="#000" stroke-width="1.45"/>
<line x1="138.00" y1="624.54" x2="142.20" y2="624.54" stroke="#000" stroke-width="1.45"/>
<line x1="680.20" y1="624.54" x2="676.00" y2="624.54" stroke="#000" stroke-width="1.45"/>
<line x1="138.00" y1="616.14" x2="142.20" y2="616.14" stroke="#000" stroke-width="1.45"/>
<line x1="680.20" y1="616.14" x2="676.00" y2="616.14" stroke="#000" stroke-width="1.45"/>
<line x1="138.00" y1="608.86" x2="142.20" y2="608.86" stroke="#000" stroke-width="1.45"/>
<line x1="680.20" y1="608.86" x2="676.00" y2="608.86" stroke="#000" stroke-width="1.45"/>
<line x1="138.00" y1="602.44" x2="142.20" y2="602.44" stroke="#000" stroke-width="1.45"/>
<line x1="680.20" y1="602.44" x2="676.00" y2="602.44" stroke="#000" stroke-width="1.45"/>
<line x1="138.00" y1="596.70" x2="146.50" y2="596.70" stroke="#000" stroke-width="1.45"/>
<line x1="680.20" y1="596.70" x2="671.70" y2="596.70" stroke="#000" stroke-width="1.45"/>
<line x1="138.00" y1="558.92" x2="142.20" y2="558.92" stroke="#000" stroke-width="1.45"/>
<line x1="680.20" y1="558.92" x2="676.00" y2="558.92" stroke="#000" stroke-width="1.45"/>
<line x1="138.00" y1="536.82" x2="142.20" y2="536.82" stroke="#000" stroke-width="1.45"/>
<line x1="680.20" y1="536.82" x2="676.00" y2="536.82" stroke="#000" stroke-width="1.45"/>
<line x1="138.00" y1="521.14" x2="142.20" y2="521.14" stroke="#000" stroke-width="1.45"/>
<line x1="680.20" y1="521.14" x2="676.00" y2="521.14" stroke="#000" stroke-width="1.45"/>
<line x1="138.00" y1="508.98" x2="142.20" y2="508.98" stroke="#000" stroke-width="1.45"/>
<line x1="680.20" y1="508.98" x2="676.00" y2="508.98" stroke="#000" stroke-width="1.45"/>
<line x1="138.00" y1="499.04" x2="142.20" y2="499.04" stroke="#000" stroke-width="1.45"/>
<line x1="680.20" y1="499.04" x2="676.00" y2="499.04" stroke="#000" stroke-width="1.45"/>
<line x1="138.00" y1="490.64" x2="142.20" y2="490.64" stroke="#000" stroke-width="1.45"/>
<line x1="680.20" y1="490.64" x2="676.00" y2="490.64" stroke="#000" stroke-width="1.45"/>
<line x1="138.00" y1="483.36" x2="142.20" y2="483.36" stroke="#000" stroke-width="1.45"/>
<line x1="680.20" y1="483.36" x2="676.00" y2="483.36" stroke="#000" stroke-width="1.45"/>
<line x1="138.00" y1="476.94" x2="142.20" y2="476.94" stroke="#000" stroke-width="1.45"/>
<line x1="680.20" y1="476.94" x2="676.00" y2="476.94" stroke="#000" stroke-width="1.45"/>
<g opacity="0.999">
<text transform="translate(163.30,914.80) scale(1.0,1.02)" font-family="Liberation Sans, sans-serif" font-size="30.3" font-weight="normal" text-anchor="middle" fill="#000">0</text>
<text transform="translate(299.66,914.80) scale(1.0,1.02)" font-family="Liberation Sans, sans-serif" font-size="30.3" font-weight="normal" text-anchor="middle" fill="#000">50</text>
<text transform="translate(436.72,914.80) scale(1.0,1.02)" font-family="Liberation Sans, sans-serif" font-size="30.3" font-weight="normal" text-anchor="middle" fill="#000">100</text>
<text transform="translate(573.08,914.80) scale(1.0,1.02)" font-family="Liberation Sans, sans-serif" font-size="30.3" font-weight="normal" text-anchor="middle" fill="#000">150</text>
<text transform="translate(123.40,408.20) scale(1.0,1.02)" font-family="Liberation Sans, sans-serif" font-size="30" font-weight="normal" text-anchor="end" fill="#000">0.00</text>
<text transform="translate(123.40,311.95) scale(1.0,1.02)" font-family="Liberation Sans, sans-serif" font-size="30" font-weight="normal" text-anchor="end" fill="#000">0.05</text>
<text transform="translate(123.40,215.70) scale(1.0,1.02)" font-family="Liberation Sans, sans-serif" font-size="30" font-weight="normal" text-anchor="end" fill="#000">0.10</text>
<text transform="translate(123.40,119.45) scale(1.0,1.02)" font-family="Liberation Sans, sans-serif" font-size="30" font-weight="normal" text-anchor="end" fill="#000">0.15</text>
<text transform="translate(123.40,23.20) scale(1.0,1.02)" font-family="Liberation Sans, sans-serif" font-size="30" font-weight="normal" text-anchor="end" fill="#000">0.20</text>
<text transform="translate(72.00,480.70) scale(1.0,1.02)" font-family="Liberation Sans, sans-serif" font-size="30" font-weight="normal" text-anchor="start" fill="#000">10</text>
<text transform="translate(103.70,466.40) scale(1.0,1.02)" font-family="Liberation Sans, sans-serif" font-size="20.8" font-weight="normal" text-anchor="start" fill="#000">-2</text>
<text transform="translate(72.00,606.20) scale(1.0,1.02)" font-family="Liberation Sans, sans-serif" font-size="30" font-weight="normal" text-anchor="start" fill="#000">10</text>
<text transform="translate(103.70,591.90) scale(1.0,1.02)" font-family="Liberation Sans, sans-serif" font-size="20.8" font-weight="normal" text-anchor="start" fill="#000">-3</text>
<text transform="translate(72.00,731.70) scale(1.0,1.02)" font-family="Liberation Sans, sans-serif" font-size="30" font-weight="normal" text-anchor="start" fill="#000">10</text>
<text transform="translate(103.70,717.40) scale(1.0,1.02)" font-family="Liberation Sans, sans-serif" font-size="20.8" font-weight="normal" text-anchor="start" fill="#000">-4</text>
<text transform="translate(72.00,857.20) scale(1.0,1.02)" font-family="Liberation Sans, sans-serif" font-size="30" font-weight="normal" text-anchor="start" fill="#000">10</text>
<text transform="translate(103.70,842.90) scale(1.0,1.02)" font-family="Liberation Sans, sans-serif" font-size="20.8" font-weight="normal" text-anchor="start" fill="#000">-5</text>
<text transform="translate(183.90,76.60) scale(1.0,1.04)" font-family="Liberation Sans, sans-serif" font-size="27.05" font-weight="bold" text-anchor="start" fill="#D63A14">AJG50 (dry)</text>
<text transform="translate(503.60,319.50) scale(1.0,1.04)" font-family="Liberation Sans, sans-serif" font-size="27.05" font-weight="bold" text-anchor="start" fill="#2B3AA2">AJG35</text>
<text transform="translate(585.30,380.90) scale(1.0,1.04)" font-family="Liberation Sans, sans-serif" font-size="27.05" font-weight="bold" text-anchor="start" fill="#40A5D6">AJG59</text>
<text transform="translate(582.60,787.60) scale(1.0,1.04)" font-family="Liberation Sans, sans-serif" font-size="27.05" font-weight="bold" text-anchor="start" fill="#2B3AA2">AJG35</text>
<text transform="translate(584.50,856.80) scale(1.0,1.04)" font-family="Liberation Sans, sans-serif" font-size="27.05" font-weight="bold" text-anchor="start" fill="#40A5D6">AJG59</text>
<text transform="translate(409.30,959.30) scale(1.0,1.02)" font-family="Liberation Sans, sans-serif" font-size="36.3" font-weight="bold" text-anchor="middle" fill="#000">Confining Pressure (MPa)</text>
<text transform="translate(27.7,215.2) rotate(-90) scale(1,1.015)" font-family="Liberation Sans, sans-serif" font-size="36.1" font-weight="bold" text-anchor="middle" fill="#000">Crack Density Parameter</text>
<text transform="translate(40.9,670.9) rotate(-90) scale(1,1.015)" font-family="Liberation Sans, sans-serif" font-size="36" font-weight="bold" text-anchor="middle" fill="#000">Aspect Ratio</text>
</g>
</svg>
</body></html>
